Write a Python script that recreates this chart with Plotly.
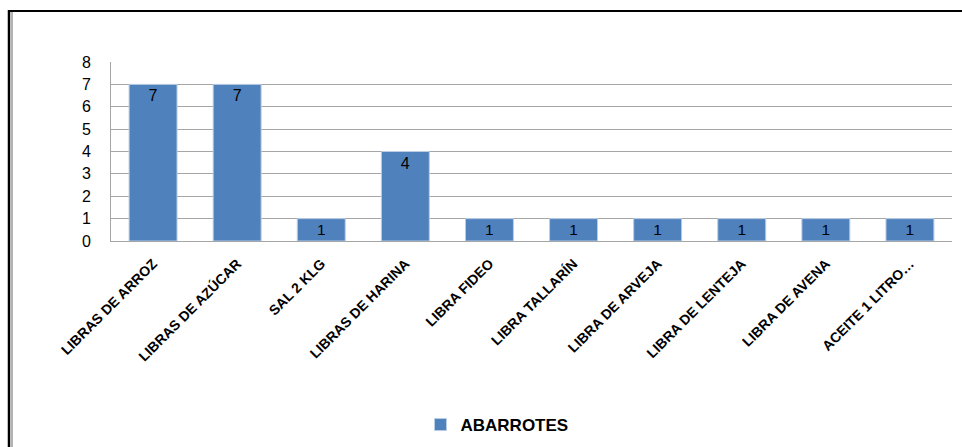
import plotly.graph_objects as go

categories = ["LIBRAS DE ARROZ", "LIBRAS DE AZÚCAR", "SAL 2 KLG", "LIBRAS DE HARINA",
              "LIBRA FIDEO", "LIBRA TALLARÍN", "LIBRA DE ARVEJA", "LIBRA DE LENTEJA",
              "LIBRA DE AVENA", "ACEITE 1 LITRO…"]
values = [7, 7, 1, 4, 1, 1, 1, 1, 1, 1]
series_name = "ABARROTES"
y_ticks = [0, 1, 2, 3, 4, 5, 6, 7, 8]

W, H = 962, 447
L, R, T, B = 111, 10, 62, 206
pw, ph = W - L - R, H - T - B

def px_x(x):
    return (x - L) / pw

def px_y(y):
    return (H - B - y) / ph

font = "Arial, Liberation Sans"

fig = go.Figure()
fig.add_trace(go.Bar(
    x=categories, y=values, name=series_name,
    marker=dict(color="#4f81bd", line=dict(color="#b9cde5", width=1)),
    text=[str(v) for v in values], textposition="inside", insidetextanchor="end",
    textfont=dict(family=font, size=16, color="black"),
    textangle=0, showlegend=True,
))

fig.update_layout(
    width=W, height=H,
    margin=dict(l=L, r=R, t=T, b=B, autoexpand=False),
    paper_bgcolor="white", plot_bgcolor="white",
    bargap=0.43,
    xaxis=dict(
        tickangle=-45, showgrid=False, showline=True, linecolor="#a6a6a6", linewidth=1,
        ticks="", tickfont=dict(family=font, size=14, color="black", weight="bold"),
        range=[-0.5, len(categories) - 0.5], ticklabelstandoff=8,
    ),
    yaxis=dict(
        range=[0, 8], tickvals=y_ticks, showgrid=True, gridcolor="#a6a6a6", gridwidth=1,
        showline=True, linecolor="#a6a6a6", linewidth=1, ticks="", zeroline=False,
        tickfont=dict(family=font, size=16, color="black"), ticklabelstandoff=16,
    ),
    legend=dict(
        orientation="h", xref="container", yref="container",
        x=497 / W, y=1 - 425 / H, xanchor="center", yanchor="middle",
        font=dict(family=font, size=17, color="black", weight="bold"),
        itemwidth=30,
    ),
    shapes=[
        dict(type="line", xref="paper", yref="paper", x0=px_x(9), x1=px_x(9),
             y0=px_y(10), y1=px_y(447), line=dict(color="black", width=2.5)),
        dict(type="line", xref="paper", yref="paper", x0=px_x(12), x1=px_x(12),
             y0=px_y(12), y1=px_y(447), line=dict(color="#9a9a9a", width=1.5)),
        dict(type="line", xref="paper", yref="paper", x0=px_x(8), x1=px_x(962),
             y0=px_y(11), y1=px_y(11), line=dict(color="black", width=2)),
    ],
)

fig.write_html("out.html")
